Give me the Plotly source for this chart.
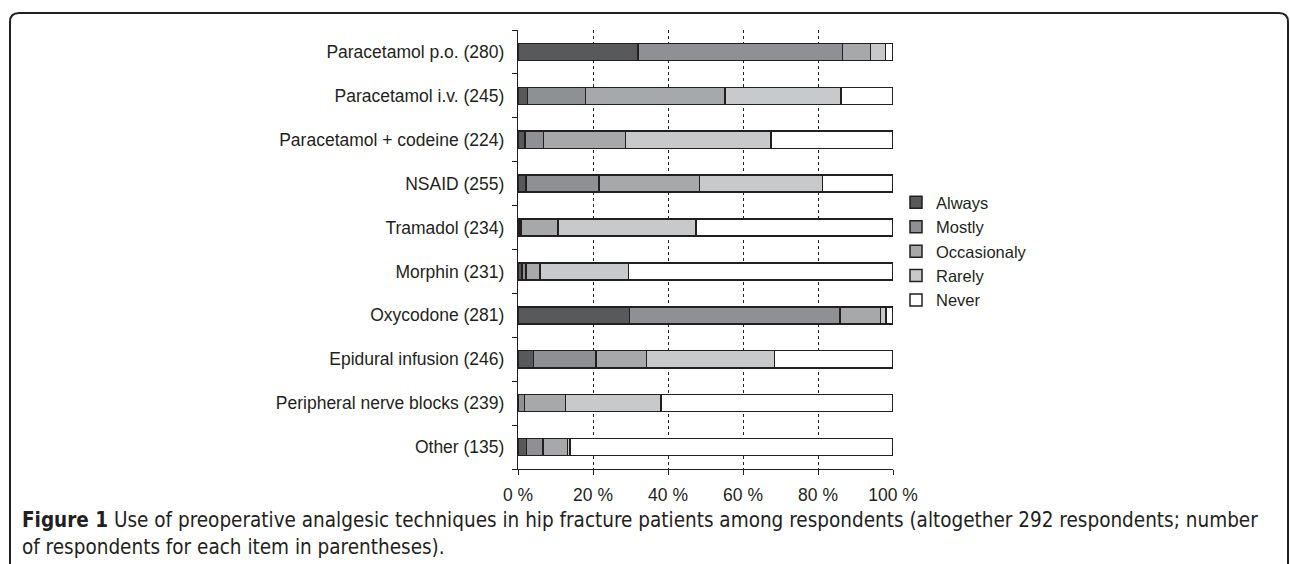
import plotly.graph_objects as go

categories = [
    "Paracetamol p.o. (280)",
    "Paracetamol i.v. (245)",
    "Paracetamol + codeine (224)",
    "NSAID (255)",
    "Tramadol (234)",
    "Morphin (231)",
    "Oxycodone (281)",
    "Epidural infusion (246)",
    "Peripheral nerve blocks (239)",
    "Other (135)",
]
always      = [32.0,  2.5,  1.9,  2.1, 0.4, 1.0, 29.7,  4.1,  0.0,  2.2]
mostly      = [54.5, 15.5,  4.9, 19.5, 0.4, 1.1, 56.1, 16.7,  1.7,  4.4]
occasionaly = [ 7.5, 37.2, 21.9, 26.8, 9.9, 3.7, 10.9, 13.4, 10.9,  6.6]
rarely      = [ 4.0, 30.9, 38.7, 32.8, 36.7, 23.6, 1.4, 34.2, 25.5,  0.7]
never       = [ 2.0, 13.9, 32.6, 18.8, 52.6, 70.6, 1.9, 31.6, 61.9, 86.1]

series = [
    ("Always", always, "#58595b"),
    ("Mostly", mostly, "#8f9093"),
    ("Occasionaly", occasionaly, "#a7a8aa"),
    ("Rarely", rarely, "#c8c9cb"),
    ("Never", never, "#ffffff"),
]
x_ticks = [0, 20, 40, 60, 80, 100]
x_ticklabels = ["0 %", "20 %", "40 %", "60 %", "80 %", "100 %"]

INK = "#231f20"
fig = go.Figure()
for name, vals, col in series:
    fig.add_trace(go.Bar(
        y=categories, x=vals, name=name, orientation="h",
        marker=dict(color=col, line=dict(color=INK, width=1.5)),
    ))

W, H = 1290, 564
L, R, T, B = 518, 893, 30, 469


def px(x, y):
    return (x - L) / (R - L), (B - y) / (B - T)


pts = [(10, 570), (10, 22), (19, 13), (1279, 13), (1288, 22), (1288, 570)]
p = [px(*q) for q in pts]
frame = (f"M{p[0][0]},{p[0][1]} L{p[1][0]},{p[1][1]} "
         f"Q{px(10,13)[0]},{px(10,13)[1]} {p[2][0]},{p[2][1]} "
         f"L{p[3][0]},{p[3][1]} "
         f"Q{px(1288,13)[0]},{px(1288,13)[1]} {p[4][0]},{p[4][1]} "
         f"L{p[5][0]},{p[5][1]}")

cx, cy = px(20, 506)
fig.update_layout(
    width=W, height=H,
    margin=dict(l=L, r=W - R, t=T, b=H - B, pad=0),
    barmode="stack", bargap=0.61,
    plot_bgcolor="white", paper_bgcolor="white",
    font=dict(family="Liberation Sans, Arial, sans-serif", size=17.5, color=INK),
    showlegend=True,
    legend=dict(x=px(896, 0)[0], y=px(0, 185)[1], xanchor="left", yanchor="top",
                traceorder="normal", font=dict(size=16.5, color=INK),
                itemwidth=30, tracegroupgap=0, bgcolor="rgba(0,0,0,0)"),
    xaxis=dict(range=[0, 100], tickvals=x_ticks, ticktext=x_ticklabels,
               showgrid=True, gridcolor=INK, gridwidth=1, griddash="3px,3px",
               showline=True, linecolor=INK, linewidth=1.2,
               ticks="outside", ticklen=5, tickcolor=INK, tickwidth=1.2,
               zeroline=False, ticklabelstandoff=5, fixedrange=True),
    yaxis=dict(categoryorder="array", categoryarray=categories[::-1],
               showline=True, linecolor=INK, linewidth=1.2,
               ticks="outside", ticklen=5, tickcolor=INK, tickwidth=1.2,
               tickson="boundaries", showgrid=False, ticklabelstandoff=9,
               fixedrange=True),
    shapes=[dict(type="path", path=frame, xref="paper", yref="paper",
                 line=dict(color=INK, width=2), layer="above")],
    annotations=[dict(
        xref="paper", yref="paper", x=cx, y=cy, xanchor="left", yanchor="top",
        align="left", showarrow=False,
        font=dict(family="DejaVu Sans Condensed, Liberation Sans Narrow, sans-serif",
                  size=20.5, color=INK),
        text=("<b>Figure 1</b> Use of preoperative analgesic techniques in hip fracture "
              "patients among respondents (altogether 292 respondents; number<br>"
              "of respondents for each item in parentheses)."),
    )],
)
fig.write_html("out.html", config={"displayModeBar": False},
               post_script="document.body.style.margin='0';")
